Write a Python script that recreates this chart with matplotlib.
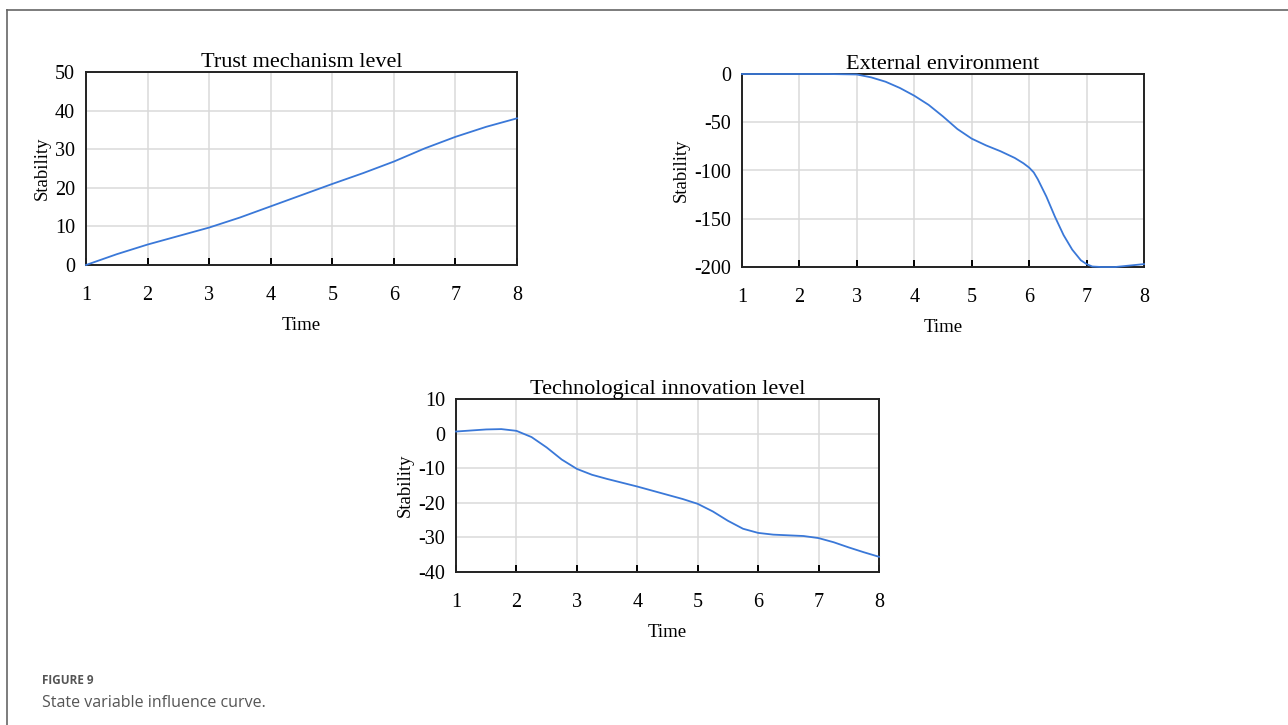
import matplotlib.pyplot as plt
from matplotlib.lines import Line2D

# ==== Daten ====
trust_t = [1, 1.5, 2, 2.5, 3, 3.5, 4, 4.5, 5, 5.5, 6, 6.5, 7, 7.5, 8]
trust_y = [0, 2.8, 5.3, 7.5, 9.7, 12.3, 15.2, 18.1, 21.0, 23.8, 26.8, 30.2, 33.2, 35.8, 38.0]

env_t = [1, 2, 2.5, 3, 3.25, 3.5, 3.75, 4, 4.25, 4.5, 4.75, 5, 5.25, 5.5, 5.75, 5.9, 6,
         6.08, 6.15, 6.3, 6.45, 6.6, 6.75, 6.9, 7, 7.1, 7.25, 7.5, 7.75, 8]
env_y = [0, 0, 0, -0.5, -3.5, -8, -14.5, -22.5, -32, -44, -57, -67, -74, -80, -87, -92.5, -97,
         -102, -109, -127, -148, -167, -182, -193, -197, -199.5, -200, -200, -198.5, -197]

tech_t = [1, 1.25, 1.5, 1.75, 2, 2.25, 2.5, 2.75, 3, 3.25, 3.5, 3.75, 4, 4.25, 4.5,
          4.75, 5, 5.25, 5.5, 5.75, 6, 6.25, 6.5, 6.75, 7, 7.25, 7.5, 7.75, 8]
tech_y = [0.6, 0.9, 1.2, 1.3, 0.8, -1.0, -4.0, -7.5, -10.2, -11.9, -13.1, -14.2, -15.3,
          -16.5, -17.7, -18.9, -20.3, -22.5, -25.2, -27.5, -28.7, -29.2, -29.4, -29.6,
          -30.2, -31.4, -32.9, -34.3, -35.6]

plt.rcParams["font.family"] = ["Liberation Serif", "DejaVu Serif"]
plt.rcParams["axes.unicode_minus"] = False

LINE_COLOR = "#3a78d8"
GRID_COLOR = "#dadada"

fig = plt.figure(figsize=(12.88, 7.25), dpi=100)
W, H = 1288, 725


def make_axes(left, top, right, bottom):
    # Pixel-Koordinaten -> Figure-Koordinaten
    return fig.add_axes([left / W, 1 - bottom / H, (right - left) / W, (bottom - top) / H])


def style_panel(ax, t, y, title, ylim, yticks):
    ax.plot(t, y, color=LINE_COLOR, lw=1.3, clip_on=False, zorder=3)
    ax.set_xlim(1, 8)
    ax.set_ylim(*ylim)
    ax.set_xticks(range(1, 9))
    ax.set_yticks(yticks)
    ax.grid(True, color=GRID_COLOR, lw=1.1)
    ax.set_axisbelow(True)
    for s in ax.spines.values():
        s.set_linewidth(1.4)
        s.set_color("#222222")
    ax.tick_params(axis="x", direction="in", length=5, width=1.4, labelsize=14.5, pad=15)
    ax.tick_params(axis="y", direction="out", length=0, labelsize=14.5, pad=8)
    ax.set_title(title, fontsize=16, pad=2)
    ax.set_xlabel("Time", fontsize=13.5, labelpad=9)
    ax.set_ylabel("Stability", fontsize=13.5, labelpad=3)


ax1 = make_axes(86, 72, 517, 265)
style_panel(ax1, trust_t, trust_y, "Trust mechanism level", (0, 50), range(0, 51, 10))

ax2 = make_axes(742, 74, 1144, 267)
style_panel(ax2, env_t, env_y, "External environment", (-200, 0), range(-200, 1, 50))

ax3 = make_axes(456, 399, 879, 572)
style_panel(ax3, tech_t, tech_y, "Technological innovation level", (-40, 10), range(-40, 11, 10))

# Rahmen links und oben
fig.add_artist(Line2D([7 / W, 7 / W], [0, 1 - 10 / H], color="#666666", lw=1.2))
fig.add_artist(Line2D([7 / W, 1], [1 - 10 / H, 1 - 10 / H], color="#666666", lw=1.2))

# Bildunterschrift
fig.text(42 / W, 1 - 680 / H, "FIGURE 9", fontsize=8.5, fontweight="bold",
         color="#555555", family="Open Sans", va="center")
fig.text(42 / W, 1 - 703 / H, "State variable influence curve.", fontsize=11.5,
         color="#555555", family="Open Sans", va="center")

fig.savefig("out.png", dpi=100)
